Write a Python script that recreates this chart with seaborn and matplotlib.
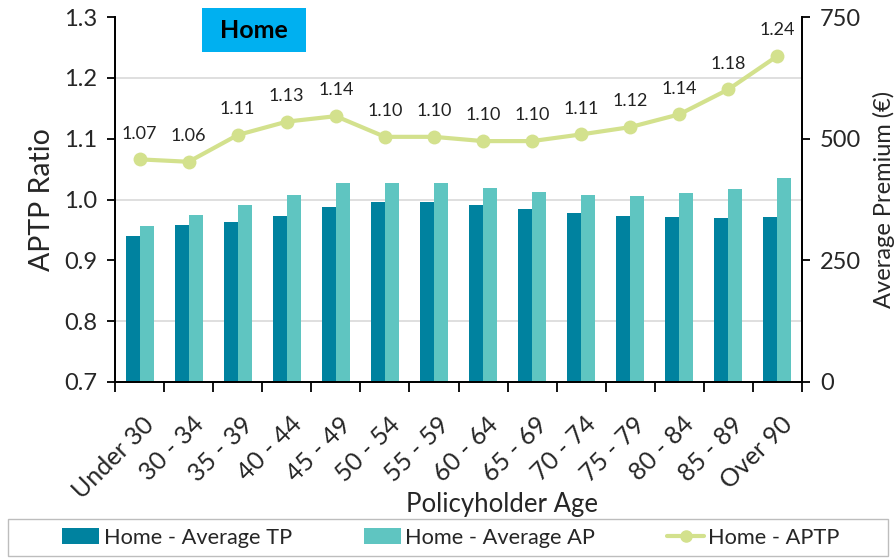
import matplotlib
matplotlib.use("Agg")
import matplotlib.pyplot as plt
import seaborn as sns
import pandas as pd
import numpy as np
from matplotlib.lines import Line2D
from matplotlib.patches import Patch, Rectangle
from matplotlib.transforms import ScaledTranslation

categories = ["Under 30", "30 - 34", "35 - 39", "40 - 44", "45 - 49", "50 - 54", "55 - 59",
              "60 - 64", "65 - 69", "70 - 74", "75 - 79", "80 - 84", "85 - 89", "Over 90"]
avg_tp = [300, 322, 329, 341, 359, 369, 369, 364, 355, 348, 341, 339, 336, 339]
avg_ap = [320, 343, 364, 385, 408, 408, 408, 399, 390, 385, 383, 388, 397, 420]
aptp = [1.066, 1.062, 1.106, 1.128, 1.137, 1.103, 1.103, 1.096, 1.096, 1.107, 1.119, 1.140, 1.181, 1.236]
series_names = ["Home - Average TP", "Home - Average AP", "Home - APTP"]

C_TP = "#00829F"
C_AP = "#5FC5C1"
C_LINE = "#D3E18D"

sns.set_theme(style="white")
plt.rcParams["font.family"] = ["Lato", "DejaVu Sans"]

df = pd.DataFrame({
    "age": categories * 2,
    "premium": avg_tp + avg_ap,
    "series": [series_names[0]] * len(categories) + [series_names[1]] * len(categories),
})

fig = plt.figure(figsize=(8.96, 5.58), dpi=100)
ax = fig.add_axes([115/896, 1-382/558, (802-115)/896, (382-17)/558])

sns.barplot(data=df, x="age", y="premium", hue="series", order=categories,
            hue_order=series_names[:2], palette=[C_TP, C_AP], width=0.57,
            gap=0, linewidth=0, saturation=1, ax=ax, legend=False)
ax.set_ylim(0, 750)
ax.set_xlim(-0.5, len(categories) - 0.5)

ax2 = ax.twinx()
x = np.arange(len(categories))
sns.lineplot(x=x, y=aptp, ax=ax2, color=C_LINE, linewidth=3, marker="o",
             markersize=10, markeredgewidth=0, legend=False)
ax2.set_ylim(0.7, 1.3)
ax2.set_xlim(-0.5, len(categories) - 0.5)
for xi, v in zip(x, aptp):
    ax2.annotate(f"{v:.2f}", (xi, v), xytext=(0, 15), textcoords="offset points",
                 ha="center", va="baseline", fontsize=13, color="#222222")

# axis sides: ratio left, premium right
ax.yaxis.tick_right()
ax.yaxis.set_label_position("right")
ax2.yaxis.tick_left()
ax2.yaxis.set_label_position("left")

ax.set_yticks([0, 250, 500, 750])
ax.set_yticks(np.arange(0, 751, 125), minor=True)
ax.yaxis.grid(True, which="minor", color="#d9d9d9", linewidth=1.2)
ax.yaxis.grid(False, which="major")
ax.tick_params(axis="y", which="minor", length=0)
ax.tick_params(axis="y", which="major", length=6, width=1.3, color="black",
               labelsize=17, pad=7, right=True, left=False)
ax.set_axisbelow(True)

ticks_left = np.round(np.arange(0.7, 1.31, 0.1), 1)
ax2.set_yticks(ticks_left)
ax2.set_yticklabels([f"{t:.1f}" for t in ticks_left])
ax2.tick_params(axis="y", length=6, width=1.3, color="black", labelsize=17, pad=7,
                left=True, right=False)

ax.set_xticks(x)
ax.set_xticklabels(categories, rotation=45, ha="right", rotation_mode="anchor", fontsize=18)
ax.set_xticks(np.arange(-0.5, len(categories), 1), minor=True)
ax.tick_params(axis="x", which="major", length=0, pad=22)
ax.tick_params(axis="x", which="minor", length=7, width=1.3, color="black", bottom=True)
shift = ScaledTranslation(3/100, 0, fig.dpi_scale_trans)
for lbl in ax.get_xticklabels():
    lbl.set_transform(lbl.get_transform() + shift)

ax.set_xlabel("Policyholder Age", fontsize=18.5)
ax.xaxis.set_label_coords((502-115)/687, (382-492)/365)
ax.set_ylabel("Average Premium (€)", fontsize=17, labelpad=8)
ax2.set_ylabel("APTP Ratio", fontsize=20.5, labelpad=6)

for a in (ax, ax2):
    a.spines["top"].set_visible(False)
    for s in ("left", "right", "bottom"):
        a.spines[s].set_color("black")
        a.spines[s].set_linewidth(1.3)

# Home title box
fig.patches.append(Rectangle((202/896, 1-52/558), 104/896, 44/558, transform=fig.transFigure,
                             facecolor="#00B0F0", edgecolor="none", zorder=5))
fig.text(254/896, 1-31/558, "Home", ha="center", va="center", fontsize=18, fontweight="bold",
         color="black", zorder=6)

# legend frame
fig.patches.append(Rectangle((8/896, 1-556/558), 880/896, 37/558, transform=fig.transFigure,
                             facecolor="white", edgecolor="#bdbdbd", linewidth=1.0, zorder=1))
handles = [Patch(facecolor=C_TP, edgecolor="none"),
           Patch(facecolor=C_AP, edgecolor="none"),
           Line2D([0], [0], color=C_LINE, linewidth=3, marker="o", markersize=8)]
leg = fig.legend(handles, series_names, loc="center", bbox_to_anchor=(451/896, 1-537.5/558),
                 ncol=3, fontsize=15.7, frameon=False,
                 handlelength=1.7, handletextpad=0.2, columnspacing=3.3,
                 borderpad=0.3)

fig.savefig("out.png", dpi=100)
